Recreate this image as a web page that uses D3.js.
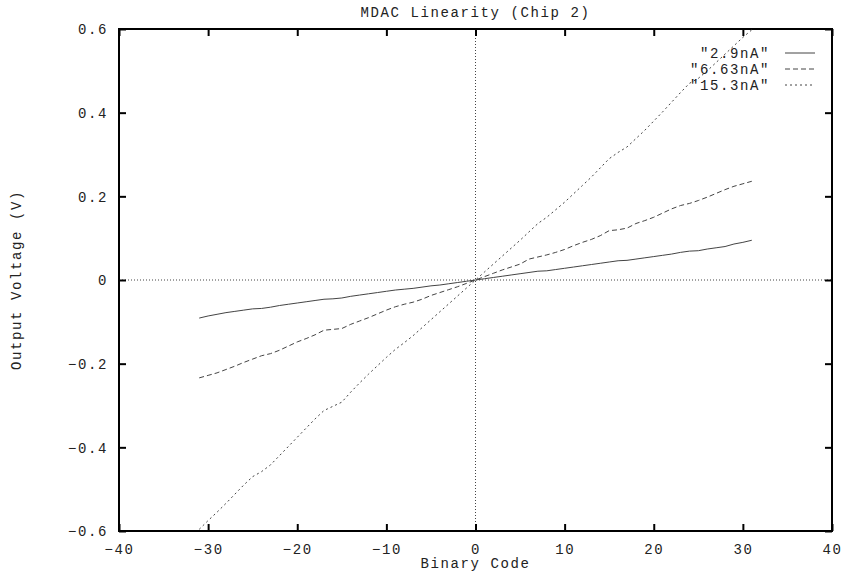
<!DOCTYPE html>
<html>
<head>
<meta charset="utf-8">
<script src="https://cdn.jsdelivr.net/npm/d3@7"></script>
<style>
  html, body { margin: 0; padding: 0; background: #fff; }
  svg text { font-family: "Liberation Mono", "DejaVu Sans Mono", monospace; font-size: 14px; letter-spacing: 1.6px; fill: #222; }
</style>
</head>
<body>
<svg id="chart" width="842" height="575"></svg>
<script>
// Binary input codes -31 .. 31
const codes = d3.range(-31, 32);

// Measured output voltage (V) per code, listed from code -31 up to +31
const series2_9nA = [
  -0.091, -0.086, -0.082, -0.078, -0.075, -0.072, -0.069, -0.068, -0.065, -0.061,
  -0.058, -0.055, -0.052, -0.049, -0.046, -0.045, -0.043, -0.039, -0.036, -0.033,
  -0.030, -0.027, -0.024, -0.022, -0.020, -0.017, -0.014, -0.012, -0.009, -0.006,
  -0.003,
  0.000,
  0.003, 0.006, 0.009, 0.012, 0.015, 0.018, 0.021, 0.022, 0.025, 0.028,
  0.031, 0.034, 0.037, 0.040, 0.043, 0.046, 0.047, 0.050, 0.053, 0.056,
  0.059, 0.062, 0.066, 0.069, 0.070, 0.074, 0.077, 0.080, 0.086, 0.090,
  0.095
];
const series6_63nA = [
  -0.234, -0.228, -0.222, -0.214, -0.206, -0.197, -0.189, -0.181, -0.176, -0.168,
  -0.158, -0.148, -0.140, -0.131, -0.120, -0.118, -0.116, -0.106, -0.098, -0.090,
  -0.081, -0.072, -0.064, -0.058, -0.053, -0.046, -0.037, -0.030, -0.023, -0.016,
  -0.008,
  0.000,
  0.008, 0.016, 0.024, 0.031, 0.038, 0.050, 0.055, 0.060, 0.066, 0.073,
  0.082, 0.090, 0.097, 0.106, 0.118, 0.120, 0.124, 0.135, 0.142, 0.150,
  0.160, 0.170, 0.178, 0.183, 0.190, 0.198, 0.207, 0.216, 0.224, 0.230,
  0.236
];
const series15_3nA = [
  -0.596, -0.575, -0.555, -0.534, -0.512, -0.490, -0.470, -0.458, -0.442, -0.420,
  -0.398, -0.376, -0.354, -0.332, -0.312, -0.302, -0.292, -0.268, -0.246, -0.225,
  -0.205, -0.185, -0.166, -0.150, -0.133, -0.114, -0.095, -0.076, -0.057, -0.038,
  -0.019,
  0.000,
  0.019, 0.038, 0.057, 0.076, 0.095, 0.115, 0.135, 0.150, 0.168, 0.186,
  0.206, 0.226, 0.246, 0.268, 0.290, 0.305, 0.318, 0.338, 0.358, 0.380,
  0.402, 0.425, 0.448, 0.470, 0.482, 0.500, 0.520, 0.540, 0.560, 0.580,
  0.598
];

const seriesNames = ['"2.9nA"', '"6.63nA"', '"15.3nA"'];
const seriesValues = [series2_9nA, series6_63nA, series15_3nA];
const seriesDash = [null, "5,3", "2,3"];

const xTicks = [-40, -30, -20, -10, 0, 10, 20, 30, 40];
const yTicks = [-0.6, -0.4, -0.2, 0, 0.2, 0.4, 0.6];

const svg = d3.select("#chart");
const L = 119, R = 832, T = 29, B = 531;

const x = d3.scaleLinear().domain([-40, 40]).range([L, R]);
const y = d3.scaleLinear().domain([-0.6, 0.6]).range([B, T]);

const fmtY = v => v === 0 ? "0" : d3.format(".1f")(v);

// zero axes
svg.append("line").attr("x1", x(0)).attr("x2", x(0)).attr("y1", T).attr("y2", B)
  .attr("stroke", "#444").attr("stroke-width", 1).attr("stroke-dasharray", "1,2");
svg.append("line").attr("x1", L).attr("x2", R).attr("y1", y(0)).attr("y2", y(0))
  .attr("stroke", "#444").attr("stroke-width", 1).attr("stroke-dasharray", "1,2");

// axes with inward ticks on all four sides
const tk = 7;
const gB = svg.append("g").attr("transform", `translate(0,${B})`)
  .call(d3.axisBottom(x).tickValues(xTicks).tickSize(-tk).tickPadding(10).tickFormat(d3.format("d")));
const gT = svg.append("g").attr("transform", `translate(0,${T})`)
  .call(d3.axisTop(x).tickValues(xTicks).tickSize(-tk).tickFormat(""));
const gL = svg.append("g").attr("transform", `translate(${L},0)`)
  .call(d3.axisLeft(y).tickValues(yTicks).tickSize(-tk).tickPadding(11).tickFormat(fmtY));
const gR = svg.append("g").attr("transform", `translate(${R},0)`)
  .call(d3.axisRight(y).tickValues(yTicks).tickSize(-tk).tickFormat(""));

[gB, gT, gL, gR].forEach(g => {
  g.select(".domain").remove();
  g.selectAll(".tick line").attr("stroke", "#000").attr("stroke-width", 2);
  g.selectAll("text").attr("font-family", null).attr("font-size", null).attr("fill", null);
});
gB.selectAll(".tick text").attr("dy", "0.9em");
gL.selectAll(".tick text").attr("dy", "0.35em");

// frame
svg.append("rect").attr("x", L).attr("y", T).attr("width", R - L).attr("height", B - T)
  .attr("fill", "none").attr("stroke", "#000").attr("stroke-width", 2);

// clip for data lines
svg.append("clipPath").attr("id", "plotClip").append("rect")
  .attr("x", L).attr("y", T).attr("width", R - L).attr("height", B - T);

const line = d3.line().x(d => x(d[0])).y(d => y(d[1]));

seriesValues.forEach((vals, i) => {
  svg.append("path")
    .datum(codes.map((c, j) => [c, vals[j]]))
    .attr("clip-path", "url(#plotClip)")
    .attr("fill", "none")
    .attr("stroke", "#444")
    .attr("stroke-width", 1)
    .attr("stroke-dasharray", seriesDash[i])
    .attr("d", line);
});

// legend
const legend = svg.append("g");
seriesNames.forEach((name, i) => {
  const yy = 53 + i * 16;
  legend.append("text").attr("x", 770).attr("y", yy).attr("dy", "0.35em")
    .attr("text-anchor", "end").text(name);
  legend.append("line").attr("x1", 785).attr("x2", 815).attr("y1", yy).attr("y2", yy)
    .attr("stroke", "#444").attr("stroke-width", 1).attr("stroke-dasharray", seriesDash[i]);
});

// titles
svg.append("text").attr("x", (L + R) / 2).attr("y", 17).attr("text-anchor", "middle")
  .text("MDAC Linearity (Chip 2)");
svg.append("text").attr("x", (L + R) / 2).attr("y", 568).attr("text-anchor", "middle")
  .text("Binary Code");
svg.append("text").attr("transform", `translate(21,${(T + B) / 2}) rotate(-90)`)
  .attr("text-anchor", "middle").text("Output Voltage (V)");
</script>
</body>
</html>
